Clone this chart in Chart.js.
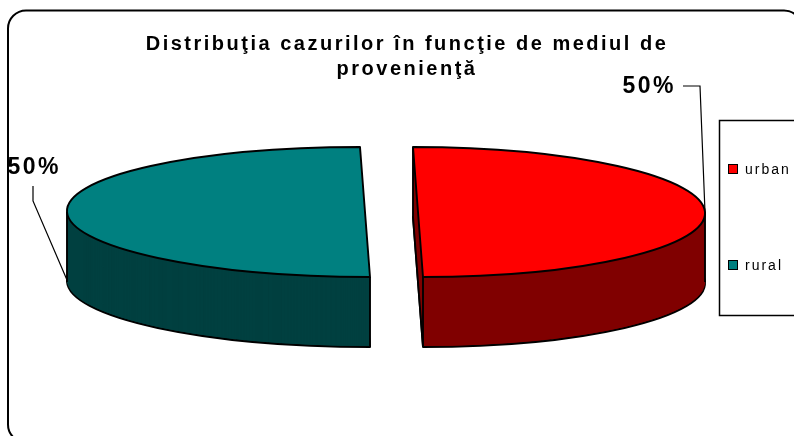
<!DOCTYPE html>
<html>
<head>
<meta charset="utf-8">
<script src="https://cdn.jsdelivr.net/npm/chart.js@4.4.1/dist/chart.umd.min.js"></script>
<style>
html,body{margin:0;padding:0;background:#fff;}
canvas{display:block;}
</style>
</head>
<body>
<canvas id="c" width="794" height="436"></canvas>
<script>
// ---- data ----
const titleLines = ['Distribuţia cazurilor în funcţie de mediul de', 'provenienţă'];
const categories = ['urban', 'rural'];
const values = [50, 50];
const topColors = ['#FF0000', '#008080'];
const sideColors = ['#800000', '#004040'];

// ---- style / projection ----
const FONT = '"Liberation Sans", Arial, sans-serif';
const CX = 391.5, CY = 212, RY = 65, DEPTH = 70, SHEAR = 5, EXPLODE = 26.5;
const RX = [287, 298];
const LW = 1.9;

function sliceGeom(arc, i) {
  const mid = (arc.startAngle + arc.endAngle) / 2;
  const Rd = arc.outerRadius;
  const a = RX[i] / Rd, d = RY / Rd, c = SHEAR / Rd;
  const dcx = arc.x, dcy = arc.y;
  const sx0 = CX + EXPLODE * Math.cos(mid), sy0 = CY;
  return {
    mid, Rd,
    apply(ctx) { ctx.translate(sx0, sy0); ctx.transform(a, 0, c, d, 0, 0); ctx.translate(-dcx, -dcy); },
    P(t) { const u = Rd * Math.cos(t), v = Rd * Math.sin(t); return [sx0 + a * u + c * v, sy0 + d * v]; }
  };
}

function drawArc(ctx, arc, bg, bw) {
  const proxy = Object.create(arc);
  proxy.options = Object.assign({}, arc.options, {
    backgroundColor: bg, borderColor: '#000', borderWidth: bw,
    borderAlign: 'center', spacing: 0, borderRadius: 0, offset: 0
  });
  Chart.ArcElement.prototype.draw.call(proxy, ctx);
}

function withUniformStroke(ctx, base, fn) {
  const orig = CanvasRenderingContext2D.prototype.stroke;
  ctx.stroke = function () {
    this.save();
    this.setTransform(base);
    this.lineWidth = LW;
    this.lineJoin = 'round';
    this.strokeStyle = '#000';
    orig.call(this);
    this.restore();
  };
  try { fn(); } finally { delete ctx.stroke; }
}

function line(ctx, pts) {
  ctx.beginPath();
  ctx.moveTo(pts[0][0], pts[0][1]);
  for (let k = 1; k < pts.length; k++) ctx.lineTo(pts[k][0], pts[k][1]);
  ctx.stroke();
}

function draw3dSlice(ctx, base, arc, i) {
  const g = sliceGeom(arc, i);
  // bottom face with outline
  ctx.save();
  ctx.translate(0, DEPTH);
  g.apply(ctx);
  withUniformStroke(ctx, base, () => drawArc(ctx, arc, sideColors[i], 1));
  ctx.restore();
  // side walls (extrusion)
  for (let dd = DEPTH - 1; dd >= 1; dd--) {
    ctx.save();
    ctx.translate(0, dd);
    g.apply(ctx);
    drawArc(ctx, arc, sideColors[i], 0);
    ctx.restore();
  }
  // vertical edges
  ctx.save();
  ctx.strokeStyle = '#000';
  ctx.lineWidth = LW;
  const ex = g.P(g.mid);
  line(ctx, [ex, [ex[0], ex[1] + DEPTH]]);
  [arc.startAngle, arc.endAngle].forEach(t => {
    if (Math.sin(t) > 0.5) {
      const p = g.P(t);
      line(ctx, [p, [p[0], p[1] + DEPTH]]);
    }
  });
  if (Math.cos(g.mid) > 0) {
    const A = g.P(arc.startAngle), B = g.P(arc.endAngle);
    line(ctx, [A, [A[0], A[1] + DEPTH], [B[0], B[1] + DEPTH]]);
  }
  ctx.restore();
  // top face
  ctx.save();
  g.apply(ctx);
  withUniformStroke(ctx, base, () => drawArc(ctx, arc, topColors[i], 1));
  ctx.restore();
}

function roundRectPath(ctx, x, y, w, h, r) {
  ctx.beginPath();
  ctx.moveTo(x + r, y);
  ctx.lineTo(x + w - r, y);
  ctx.arcTo(x + w, y, x + w, y + r, r);
  ctx.lineTo(x + w, y + h - r);
  ctx.arcTo(x + w, y + h, x + w - r, y + h, r);
  ctx.lineTo(x + r, y + h);
  ctx.arcTo(x, y + h, x, y + h - r, r);
  ctx.lineTo(x, y + r);
  ctx.arcTo(x, y, x + r, y, r);
  ctx.closePath();
}

// leader offsets relative to each slice's outer point
const LEADER = [
  { anchorDy: 0, pts: [[-5, -126], [-22, -126]], text: [-57, -125] },
  { anchorDy: DEPTH - 2, pts: [[-34, -79], [-34, -94]], text: [-34, -112] }
];

const pie3d = {
  id: 'pie3d',
  beforeDraw(chart) {
    const ctx = chart.ctx;
    ctx.save();
    ctx.lineWidth = 2;
    ctx.strokeStyle = '#000';
    roundRectPath(ctx, 8, 10.5, 794, 432, 18);
    ctx.stroke();
    ctx.restore();
    ctx.letterSpacing = '2.5px';
  },
  beforeDatasetsDraw(chart) {
    const ctx = chart.ctx;
    ctx.letterSpacing = '0px';
    const base = ctx.getTransform();
    const meta = chart.getDatasetMeta(0);
    meta.data.forEach((arc, i) => draw3dSlice(ctx, base, arc, i));
    return false;
  },
  afterDraw(chart) {
    const ctx = chart.ctx;
    const meta = chart.getDatasetMeta(0);
    const total = values.reduce((s, v) => s + v, 0);
    ctx.save();
    // percentage labels
    meta.data.forEach((arc, i) => {
      const g = sliceGeom(arc, i);
      const L = LEADER[i];
      const p = g.P(g.mid);
      const anc = [p[0], p[1] + L.anchorDy];
      ctx.strokeStyle = '#000';
      ctx.lineWidth = 1.2;
      line(ctx, [anc].concat(L.pts.map(q => [anc[0] + q[0], anc[1] + q[1]])));
      ctx.font = 'bold 23px ' + FONT;
      ctx.letterSpacing = '2.5px';
      ctx.fillStyle = '#000';
      ctx.textAlign = 'center';
      ctx.textBaseline = 'middle';
      ctx.fillText(Math.round(values[i] / total * 100) + '%', anc[0] + L.text[0] + 1.2, anc[1] + L.text[1]);
    });
    // legend
    ctx.letterSpacing = '0px';
    ctx.lineWidth = 1.5;
    ctx.strokeStyle = '#000';
    ctx.strokeRect(719.5, 120.5, 120, 195);
    categories.forEach((lab, i) => {
      const y = 164.5 + i * 96;
      ctx.fillStyle = topColors[i];
      ctx.fillRect(728.5, y, 9, 9);
      ctx.lineWidth = 1;
      ctx.strokeRect(728.5, y, 9, 9);
      ctx.fillStyle = '#000';
      ctx.font = '14px ' + FONT;
      ctx.letterSpacing = '2px';
      ctx.textAlign = 'left';
      ctx.textBaseline = 'alphabetic';
      ctx.fillText(lab, 745, 174 + i * 96);
    });
    ctx.restore();
    ctx.letterSpacing = '0px';
  }
};

new Chart(document.getElementById('c'), {
  type: 'pie',
  data: {
    labels: categories,
    datasets: [{
      data: values,
      backgroundColor: topColors,
      borderColor: '#000',
      borderWidth: 1,
      radius: 150
    }]
  },
  options: {
    responsive: false,
    animation: false,
    devicePixelRatio: 1,
    events: [],
    radius: 150,
    layout: { padding: { left: 20 } },
    plugins: {
      legend: { display: false },
      tooltip: { enabled: false },
      title: {
        display: true,
        text: titleLines,
        color: '#000',
        font: { family: FONT, size: 20, weight: 'bold', lineHeight: 25 / 20 },
        padding: { top: 32, bottom: 10 }
      }
    }
  },
  plugins: [pie3d]
});
</script>
</body>
</html>
